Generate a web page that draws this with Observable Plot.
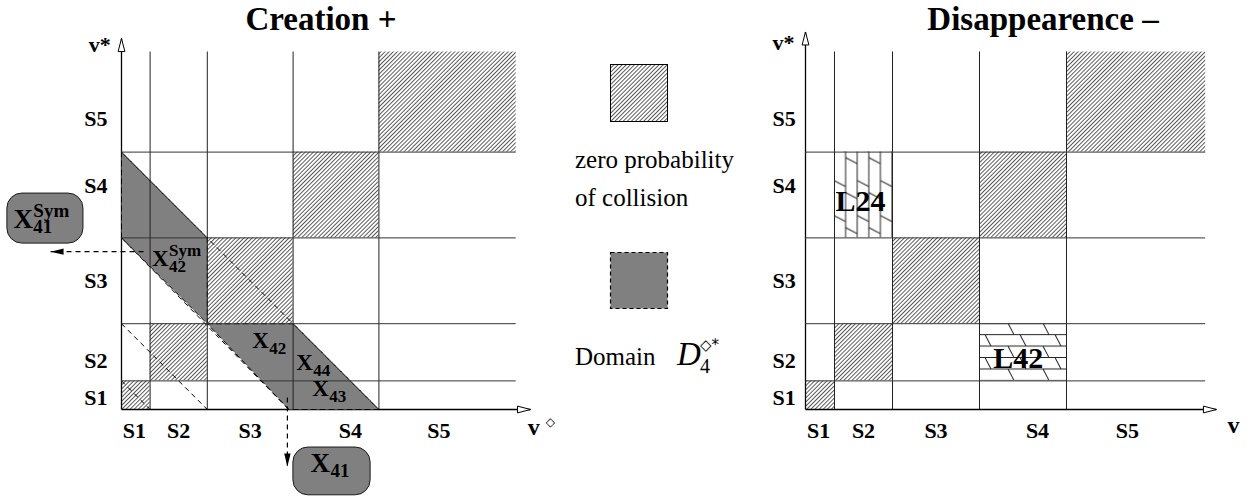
<!DOCTYPE html>
<html><head><meta charset="utf-8">
<script src="https://cdn.jsdelivr.net/npm/d3@7"></script>
<script src="https://cdn.jsdelivr.net/npm/@observablehq/plot@0.6"></script>
<style>
html,body{margin:0;padding:0;background:#fff;}
#wrap{position:relative;width:1254px;height:499px;overflow:hidden;}
#wrap > svg{position:absolute;left:0;top:0;}
</style></head>
<body><div id="wrap"></div>
<script>
// ---------------- data ----------------
const states = ["S1", "S2", "S3", "S4", "S5"];
const xBounds = [0, 1, 3, 6, 9, 13.8];          // state boundaries on v (x)
const yBounds = [0, 1, 3, 6, 9, 12.5];          // state boundaries on v* (y)
const xTickPos = [0.45, 2.0, 4.5, 8.0, 11.1];   // where the S labels sit along x
const yTickPos = [0.42, 1.71, 4.48, 7.8, 10.17];// where the S labels sit along y
const zeroCells = [[0,0],[1,1],[2,2],[3,3],[4,4]]; // [column,row] with zero probability
const domainA = [[0,6],[0,9],[3,6],[3,3]];
const domainB = [[3,3],[6,3],[9,0],[5.85,0]];
const diagonals = [[0,9,9,0],[0,6,5.85,0],[0,3,3,0],[0,1,1,0]];
const dashedArrows = [[0.77,5.52,-2.48,5.52],[5.8,0.42,5.8,-1.99]];
const boxes = [[-3.99,-1.33,5.80,7.55],[6.01,8.71,-3.0,-1.33]];
const cellLabels = [
  {base:"X", sub:"42", sup:"Sym", x:1.07, y:5.28},
  {base:"X", sub:"42", sup:"",    x:4.57, y:2.40},
  {base:"X", sub:"44", sup:"",    x:6.11, y:1.63},
  {base:"X", sub:"43", sup:"",    x:6.67, y:0.73}
];
const boxLabels = [
  {base:"X", sub:"41", sup:"Sym", x:-3.78, y:6.66},
  {base:"X", sub:"41", sup:"",    x:6.61,  y:-1.90}
];
const lossCells = [
  {col:1, row:3, label:"L24", x:1.9,  y:7.29, pattern:"vshingle"},
  {col:3, row:1, label:"L42", x:7.34, y:1.80, pattern:"hshingle"}
];
const titles = ["Creation +", "Disappearence \u2013"];
const legendTexts = [["zero probability", "of collision"], ["Domain"]];

// ---------------- config ----------------
const FONT = "Liberation Serif, Tinos, Nimbus Roman, Times, DejaVu Serif, serif";
const W = 1254, H = 499;
const yRange = [409, 51.5];
const left  = {xRange:[121, 515.7], xTip:14.3,  yTip:12.97, yLabX:-0.49, vStarX:-0.38, vStarY:12.73};
const right = {xRange:[805, 1205.2], xTip:14.17, yTip:13.2,  yLabX:-0.34, vStarX:-0.38, vStarY:12.8};

const wrap = document.getElementById("wrap");

// ---------- shared defs (patterns, markers) ----------
const defsSvg = d3.create("svg").attr("width", 0).attr("height", 0);
const defs = defsSvg.append("defs");
const hatch = defs.append("pattern").attr("id", "hatch").attr("patternUnits", "userSpaceOnUse")
  .attr("width", 2.9).attr("height", 10).attr("patternTransform", "rotate(45)");
hatch.append("line").attr("x1", 1.45).attr("x2", 1.45).attr("y1", 0).attr("y2", 10)
  .attr("stroke", "#222").attr("stroke-width", 0.75);

defs.append("marker").attr("id", "openArrow").attr("markerUnits", "userSpaceOnUse")
  .attr("markerWidth", 16).attr("markerHeight", 10).attr("refX", 13).attr("refY", 4)
  .attr("orient", "auto").style("overflow", "visible")
  .append("path").attr("d", "M0,0.6 L13,4 L0,7.4 Z").attr("fill", "#fff").attr("stroke", "#000").attr("stroke-width", 1);
defs.append("marker").attr("id", "solidArrow").attr("markerUnits", "userSpaceOnUse")
  .attr("markerWidth", 14).attr("markerHeight", 8).attr("refX", 13).attr("refY", 3.2)
  .attr("orient", "auto").style("overflow", "visible")
  .append("path").attr("d", "M0,0 L13,3.2 L0,6.4 Z").attr("fill", "#000").attr("stroke", "none");

// L24 / L42 shingle patterns placed at their cells using the right panel scales
const xR = d3.scaleLinear([0, 13.8], right.xRange);
const yS = d3.scaleLinear([0, 12.5], yRange);
lossCells.forEach(c => {
  const x0 = xR(xBounds[c.col]), x1 = xR(xBounds[c.col + 1]);
  const yt = yS(yBounds[c.row + 1]), yb = yS(yBounds[c.row]);
  const cw = x1 - x0, ch = yb - yt;
  const p = defs.append("pattern").attr("id", c.pattern).attr("patternUnits", "userSpaceOnUse")
    .attr("x", x0).attr("y", yt);
  const st = (s) => s.attr("stroke", "#222").attr("stroke-width", 1);
  if (c.pattern === "vshingle") {
    const cs = cw / 5;
    p.attr("width", 2 * cs).attr("height", 35);
    [0, cs, 2 * cs].forEach(x => st(p.append("line").attr("x1", x).attr("x2", x).attr("y1", 0).attr("y2", 35)));
    st(p.append("line").attr("x1", 0).attr("y1", 29).attr("x2", cs).attr("y2", 35));
    st(p.append("line").attr("x1", cs).attr("y1", 6).attr("x2", 2 * cs).attr("y2", 12));
  } else {
    const rs = ch / 5;
    p.attr("width", 35).attr("height", 2 * rs);
    [0, rs, 2 * rs].forEach(y => st(p.append("line").attr("y1", y).attr("y2", y).attr("x1", 0).attr("x2", 35)));
    st(p.append("line").attr("x1", 29).attr("y1", 0).attr("x2", 35).attr("y2", rs));
    st(p.append("line").attr("x1", 6).attr("y1", rs).attr("x2", 12).attr("y2", 2 * rs));
  }
});
wrap.appendChild(defsSvg.node());

// ---------- helpers ----------
const lk = {x1: d => d[0], y1: d => d[1], x2: d => d[2], y2: d => d[3]};
function mathMarks(labels, size, subSize, subDy, supDy) {
  const common = {x: "x", y: "y", fontFamily: FONT, fontWeight: "bold", textAnchor: "start", fill: "#000"};
  return [
    Plot.text(labels, {...common, text: "base", fontSize: size}),
    Plot.text(labels, {...common, text: "sub", fontSize: subSize, dx: 0.74 * size, dy: subDy}),
    Plot.text(labels.filter(d => d.sup), {...common, text: "sup", fontSize: subSize, dx: 0.74 * size, dy: supDy})
  ];
}
function gridMarks() {
  return [
    Plot.ruleX(xBounds.slice(1, 5), {y1: 0, y2: yBounds[5], stroke: "#222", strokeWidth: 1}),
    Plot.ruleY(yBounds.slice(1, 5), {x1: 0, x2: xBounds[5], stroke: "#333", strokeWidth: 1})
  ];
}
function tickMarks(cfg) {
  const t = {fontFamily: FONT, fontWeight: "bold", fontSize: 22, fill: "#000"};
  return [
    Plot.text(states, {...t, x: xTickPos, y: () => -0.75, text: d => d, textAnchor: "middle"}),
    Plot.text(states, {...t, x: () => cfg.yLabX, y: yTickPos, text: d => d, textAnchor: "end"}),
    Plot.text(["v*"], {...t, x: () => cfg.vStarX, y: () => cfg.vStarY, text: d => d, textAnchor: "end"})
  ];
}
function axisMark(cfg) {
  return Plot.link([[0, 0, cfg.xTip, 0], [0, 0, 0, cfg.yTip]], {...lk, stroke: "#000", strokeWidth: 1.3, ariaDescription: "axis"});
}
function cellRect(cells, fill) {
  return Plot.rect(cells, {
    x1: d => xBounds[d[0]], x2: d => xBounds[d[0] + 1],
    y1: d => yBounds[d[1]], y2: d => yBounds[d[1] + 1], fill
  });
}
function finish(svg) {
  svg.querySelectorAll('g[aria-description="axis"] path, g[aria-description="axis"] line')
    .forEach(p => p.setAttribute("marker-end", "url(#openArrow)"));
  svg.querySelectorAll('g[aria-description="dashed-arrow"] path, g[aria-description="dashed-arrow"] line')
    .forEach(p => p.setAttribute("marker-end", "url(#solidArrow)"));
  wrap.appendChild(svg);
}
const baseOpts = (cfg) => ({
  width: W, height: H,
  x: {domain: [0, 13.8], range: cfg.xRange, axis: null},
  y: {domain: [0, 12.5], range: yRange, axis: null},
  style: {background: "transparent", overflow: "visible", fontFamily: FONT}
});

// ---------- left panel: Creation + ----------
const domainPts = [
  ...domainA.map(p => ({id: "A", x: p[0], y: p[1]})),
  ...domainB.map(p => ({id: "B", x: p[0], y: p[1]}))
];
const plotL = Plot.plot({
  ...baseOpts(left),
  marks: [
    axisMark(left),
    cellRect(zeroCells, "url(#hatch)"),
    Plot.line(domainPts, {x: "x", y: "y", z: "id", fill: "#808080", stroke: "#000", strokeWidth: 1,
      strokeDasharray: "5,4", curve: "linear-closed"}),
    ...gridMarks(),
    Plot.link(diagonals, {...lk, stroke: "#000", strokeWidth: 1, strokeDasharray: "5,4"}),
    Plot.link(dashedArrows, {...lk, stroke: "#000", strokeWidth: 1.2, strokeDasharray: "5,4", ariaDescription: "dashed-arrow"}),
    Plot.rect(boxes, {x1: d => d[0], x2: d => d[1], y1: d => d[2], y2: d => d[3],
      fill: "#808080", stroke: "#1a1a1a", strokeWidth: 1, rx: 15}),
    ...mathMarks(cellLabels, 23, 17, 8, -8),
    ...mathMarks(boxLabels, 27, 19, 7.5, -8.5),
    ...tickMarks(left),
    Plot.text(["v"], {x: () => 14.2, y: () => -0.64, text: d => d, fontFamily: FONT, fontWeight: "bold", fontSize: 24, textAnchor: "start"}),
    Plot.text(["\u25C7"], {x: () => 14.83, y: () => -0.44, text: d => d, fontFamily: "DejaVu Sans", fontSize: 12, textAnchor: "start"})
  ]
});
finish(plotL);

// ---------- right panel: Disappearence - ----------
const plotR = Plot.plot({
  ...baseOpts(right),
  marks: [
    axisMark(right),
    cellRect(zeroCells, "url(#hatch)"),
    Plot.rect(lossCells, {x1: d => xBounds[d.col], x2: d => xBounds[d.col + 1],
      y1: d => yBounds[d.row], y2: d => yBounds[d.row + 1], fill: d => `url(#${d.pattern})`}),
    ...gridMarks(),
    Plot.text(lossCells, {x: "x", y: "y", text: "label", fontFamily: FONT, fontWeight: "bold", fontSize: 30, textAnchor: "middle"}),
    ...tickMarks(right),
    Plot.text(["v"], {x: () => 14.55, y: () => -0.57, text: d => d, fontFamily: FONT, fontWeight: "bold", fontSize: 24, textAnchor: "start"})
  ]
});
finish(plotR);

// ---------- titles and legend ----------
const ov = d3.create("svg").attr("width", W).attr("height", H)
  .attr("font-family", FONT).style("overflow", "visible");
ov.append("text").attr("x", 321).attr("y", 30).attr("text-anchor", "middle")
  .attr("font-size", 33).attr("font-weight", "bold").text(titles[0]);
ov.append("text").attr("x", 1043).attr("y", 30).attr("text-anchor", "middle")
  .attr("font-size", 33).attr("font-weight", "bold").text(titles[1]);

ov.append("rect").attr("x", 610.5).attr("y", 64.5).attr("width", 57).attr("height", 57)
  .attr("fill", "url(#hatch)").attr("stroke", "#000").attr("stroke-width", 1);
legendTexts[0].forEach((t, i) => ov.append("text").attr("x", 575).attr("y", 168 + i * 38)
  .attr("font-size", 25).text(t));
ov.append("rect").attr("x", 610.5).attr("y", 252.5).attr("width", 57).attr("height", 56)
  .attr("fill", "#808080").attr("stroke", "#000").attr("stroke-width", 1.2).attr("stroke-dasharray", "4,3");
ov.append("text").attr("x", 575).attr("y", 365).attr("font-size", 25).text(legendTexts[1][0]);
ov.append("text").attr("x", 677).attr("y", 365).attr("font-size", 33).attr("font-style", "italic").text("D");
ov.append("text").attr("x", 700).attr("y", 350).attr("font-size", 15).attr("font-family", "DejaVu Sans").text("\u25C7*");
ov.append("text").attr("x", 700).attr("y", 373).attr("font-size", 20).text("4");
wrap.appendChild(ov.node());
</script>
</body></html>
